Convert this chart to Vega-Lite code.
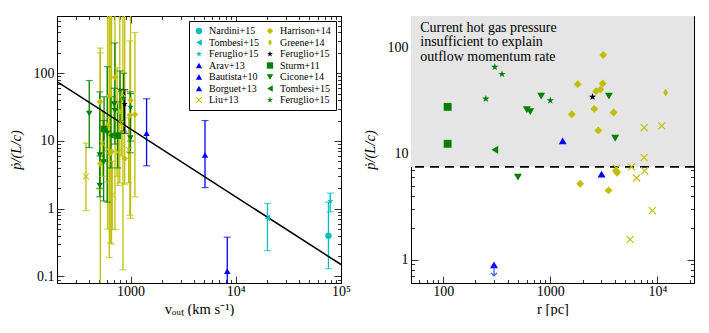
{
  "$schema": "https://vega.github.io/schema/vega-lite/v6.json",
  "padding": {"left": 8, "top": 9, "right": 0, "bottom": 0},
  "background": "white",
  "config": {
    "view": {"stroke": null},
    "font": "Liberation Serif",
    "axis": {
      "domainColor": "black", "domainWidth": 1, "tickColor": "black", "tickWidth": 0.8,
      "labelFont": "Liberation Serif", "labelFontSize": 14, "labelColor": "black",
      "titleFont": "Liberation Serif", "titleFontSize": 14.5, "titleFontWeight": "normal", "titleColor": "black",
      "grid": false, "labelOverlap": false, "labelFlush": false
    }
  },
  "datasets": {
    "fit": [{"v": 200, "p": 75}, {"v": 100000, "p": 0.15}],
    "left": [
      {"s": "Harrison+14", "v": 513, "p": 38, "lo": 1.9, "hi": 235},
      {"s": "Harrison+14", "v": 516, "p": 4.6, "lo": 0.05, "hi": 200},
      {"s": "Harrison+14", "v": 607, "p": 17, "lo": 0.5, "hi": 2000},
      {"s": "Harrison+14", "v": 628, "p": 46, "lo": 0.19, "hi": 2000},
      {"s": "Harrison+14", "v": 640, "p": 6.6, "lo": 0.31, "hi": 2000},
      {"s": "Harrison+14", "v": 711, "p": 87, "lo": 0.49, "hi": 2000},
      {"s": "Harrison+14", "v": 790, "p": 27, "lo": 2.4, "hi": 2000},
      {"s": "Harrison+14", "v": 847, "p": 45, "lo": 0.125, "hi": 2000},
      {"s": "Harrison+14", "v": 880, "p": 5.5, "lo": 2.3, "hi": 2000},
      {"s": "Harrison+14", "v": 1000, "p": 40, "lo": 0.72, "hi": 2000},
      {"s": "Harrison+14", "v": 985, "p": 24, "lo": 0.8, "hi": 300},
      {"s": "Harrison+14", "v": 1100, "p": 24.5, "lo": 1.5, "hi": 400},
      {"s": "Harrison+14", "v": 660, "p": 7, "lo": 0.3, "hi": 2000},
      {"s": "Greene+14", "v": 745, "p": 38, "lo": 3, "hi": 120},
      {"s": "Liu+13", "v": 377, "p": 3.0, "lo": 0.94, "hi": 9.3},
      {"s": "Liu+13", "v": 670, "p": 1.6, "lo": 0.5, "hi": 5},
      {"s": "Liu+13", "v": 540, "p": 9.2, "lo": 3, "hi": 28},
      {"s": "Liu+13", "v": 600, "p": 7.5, "lo": 2.5, "hi": 22},
      {"s": "Liu+13", "v": 760, "p": 6.8, "lo": 2.2, "hi": 20},
      {"s": "Liu+13", "v": 820, "p": 18, "lo": 6, "hi": 55},
      {"s": "Liu+13", "v": 960, "p": 7.4, "lo": 2.4, "hi": 22},
      {"s": "Cicone+14", "v": 405, "p": 25.5, "lo": 8, "hi": 78},
      {"s": "Cicone+14", "v": 510, "p": 2.2, "lo": 1.5, "hi": 6},
      {"s": "Cicone+14", "v": 510, "p": 6.2, "lo": 2, "hi": 53},
      {"s": "Cicone+14", "v": 555, "p": 4.9, "lo": 1.3, "hi": 20},
      {"s": "Sturm+11", "v": 560, "p": 15, "lo": 5, "hi": 45},
      {"s": "Cicone+14", "v": 600, "p": 13, "lo": 1.25, "hi": 125},
      {"s": "Tombesi+15|g", "v": 650, "p": 12, "lo": 4, "hi": 45},
      {"s": "Cicone+14", "v": 710, "p": 28, "lo": 9, "hi": 280},
      {"s": "Sturm+11", "v": 755, "p": 12, "lo": 4, "hi": 38},
      {"s": "Feruglio+15|g", "v": 795, "p": 57, "lo": 20, "hi": 108},
      {"s": "Cicone+14", "v": 700, "p": 35, "lo": 12, "hi": 60},
      {"s": "Feruglio+15|g", "v": 860, "p": 43, "lo": 14, "hi": 100},
      {"s": "Cicone+14", "v": 995, "p": 11, "lo": 6.7, "hi": 53},
      {"s": "Feruglio+15|g", "v": 1000, "p": 32, "lo": 10, "hi": 50},
      {"s": "Feruglio+15|k", "v": 880, "p": 35, "lo": 13, "hi": 57},
      {"s": "Arav+13", "v": 1420, "p": 13, "lo": 4.3, "hi": 42},
      {"s": "Bautista+10", "v": 5100, "p": 6.2, "lo": 2.05, "hi": 20},
      {"s": "Borguet+13", "v": 8300, "p": 0.12, "lo": 0.05, "hi": 0.38},
      {"s": "Tombesi+15|c", "v": 20000, "p": 0.73, "lo": 0.24, "hi": 1.2},
      {"s": "Nardini+15", "v": 76000, "p": 0.40, "lo": 0.13, "hi": 1.25},
      {"s": "Feruglio+15|c", "v": 79000, "p": 1.3, "lo": 0.9, "hi": 1.7}
    ],
    "right": [
      {"s": "Harrison+14", "r": 3125, "p": 85.5},
      {"s": "Harrison+14", "r": 1803, "p": 45.4},
      {"s": "Harrison+14", "r": 3090, "p": 46},
      {"s": "Harrison+14", "r": 2680, "p": 39},
      {"s": "Harrison+14", "r": 2940, "p": 40.5},
      {"s": "Harrison+14", "r": 2580, "p": 26.5},
      {"s": "Harrison+14", "r": 1590, "p": 23.6},
      {"s": "Harrison+14", "r": 3900, "p": 24.5},
      {"s": "Harrison+14", "r": 2810, "p": 16.6},
      {"s": "Harrison+14", "r": 1900, "p": 5.2},
      {"s": "Harrison+14", "r": 4210, "p": 6.6},
      {"s": "Harrison+14", "r": 4100, "p": 6.9},
      {"s": "Harrison+14", "r": 3500, "p": 4.5},
      {"s": "Greene+14", "r": 11970, "p": 37.9},
      {"s": "Liu+13", "r": 7520, "p": 17.6},
      {"s": "Liu+13", "r": 10990, "p": 18.3},
      {"s": "Liu+13", "r": 7520, "p": 9.2},
      {"s": "Liu+13", "r": 5730, "p": 7.5},
      {"s": "Liu+13", "r": 7600, "p": 6.9},
      {"s": "Liu+13", "r": 6400, "p": 5.9},
      {"s": "Liu+13", "r": 8980, "p": 2.9},
      {"s": "Liu+13", "r": 5570, "p": 1.55},
      {"s": "Liu+13", "r": 4150, "p": 7.3},
      {"s": "Sturm+11", "r": 110, "p": 27.7},
      {"s": "Sturm+11", "r": 110, "p": 12.4},
      {"s": "Feruglio+15|g", "r": 303, "p": 66},
      {"s": "Feruglio+15|g", "r": 354, "p": 56.5},
      {"s": "Feruglio+15|g", "r": 250, "p": 33},
      {"s": "Feruglio+15|g", "r": 1000, "p": 31.8},
      {"s": "Tombesi+15|g", "r": 303, "p": 10.9},
      {"s": "Cicone+14", "r": 604, "p": 26},
      {"s": "Cicone+14", "r": 650, "p": 25},
      {"s": "Cicone+14", "r": 822, "p": 35},
      {"s": "Cicone+14", "r": 3530, "p": 35},
      {"s": "Cicone+14", "r": 4040, "p": 14},
      {"s": "Cicone+14", "r": 499, "p": 6.0},
      {"s": "Arav+13", "r": 1306, "p": 13.2},
      {"s": "Bautista+10", "r": 3013, "p": 6.4},
      {"s": "Borguet+13", "r": 298, "p": 0.89},
      {"s": "Feruglio+15|k", "r": 2480, "p": 34.4}
    ],
    "band": [{"x1": 50, "x2": 22000, "y1": 7.5, "y2": 200}],
    "note": [{"r": 61, "p": 142, "t": "Current hot gas pressure\ninsufficient to explain\noutflow momentum rate"}],
    "arrow": [{"r": 298, "p": 0.78}]
  },
  "resolve": {"scale": {"color": "independent", "shape": "independent"}, "legend": {"color": "independent", "shape": "independent"}},
  "bounds": "flush",
  "spacing": 70,
  "hconcat": [
    {
      "width": 284,
      "height": 267,
      "resolve": {"axis": {"x": "independent", "y": "independent"}},
      "layer": [
        {
          "data": {"name": "left"},
          "mark": {"type": "rule", "clip": true, "strokeWidth": 1.3},
          "encoding": {
            "x": {"field": "v", "type": "quantitative", "scale": {"type": "log", "domain": [200, 100000], "nice": false},
              "axis": {"orient": "bottom", "title": "vₒᵤₜ (km s⁻¹)", "titlePadding": 0, "labelPadding": 8.5,
                "values": [200,300,400,500,600,700,800,900,1000,2000,3000,4000,5000,6000,7000,8000,9000,10000,20000,30000,40000,50000,60000,70000,80000,90000,100000],
                "labelExpr": "datum.value == 1000 ? '1000' : datum.value == 10000 ? '10⁴' : datum.value == 100000 ? '10⁵' : ''",
                "tickSize": {"condition": {"test": "indexof([1000,10000,100000], datum.value) >= 0", "value": -7}, "value": -3.5}}},
            "y": {"field": "lo", "type": "quantitative", "scale": {"type": "log", "domain": [0.08, 700], "nice": false},
              "axis": {"orient": "left", "title": "ṗ/(L/c)", "titleFontStyle": "italic", "titlePadding": 10, "labelPadding": 10,
                "values": [0.08,0.09,0.1,0.2,0.3,0.4,0.5,0.6,0.7,0.8,0.9,1,2,3,4,5,6,7,8,9,10,20,30,40,50,60,70,80,90,100,200,300,400,500,600,700],
                "labelExpr": "datum.value == 0.1 ? '0.1' : datum.value == 1 ? '1' : datum.value == 10 ? '10' : datum.value == 100 ? '100' : ''",
                "tickSize": {"condition": {"test": "indexof([0.1,1,10,100], datum.value) >= 0", "value": -7}, "value": -3.5}}},
            "y2": {"field": "hi"},
            "stroke": {"field": "s", "type": "nominal", "legend": null,
              "scale": {
                "domain": ["Nardini+15", "Tombesi+15|c", "Feruglio+15|c", "Arav+13", "Bautista+10", "Borguet+13", "Liu+13", "Harrison+14", "Greene+14", "Feruglio+15|k", "Sturm+11", "Cicone+14", "Tombesi+15|g", "Feruglio+15|g"],
                "range": ["#00BFBF", "#00BFBF", "#00BFBF", "#0000FF", "#0000FF", "#0000FF", "#BFBF00", "#BFBF00", "#BFBF00", "#000000", "#008000", "#008000", "#008000", "#008000"]
              }}
          }
        },
        {
          "data": {"name": "left"},
          "mark": {"type": "tick", "orient": "horizontal", "clip": true, "size": 7, "thickness": 1.2},
          "encoding": {
            "x": {"field": "v", "type": "quantitative",
              "axis": {"orient": "top", "title": null, "labels": false,
                "values": [200,300,400,500,600,700,800,900,1000,2000,3000,4000,5000,6000,7000,8000,9000,10000,20000,30000,40000,50000,60000,70000,80000,90000,100000],
                "tickSize": {"condition": {"test": "indexof([1000,10000,100000], datum.value) >= 0", "value": -7}, "value": -3.5}}},
            "y": {"field": "lo", "type": "quantitative",
              "axis": {"orient": "right", "title": null, "labels": false,
                "values": [0.08,0.09,0.1,0.2,0.3,0.4,0.5,0.6,0.7,0.8,0.9,1,2,3,4,5,6,7,8,9,10,20,30,40,50,60,70,80,90,100,200,300,400,500,600,700],
                "tickSize": {"condition": {"test": "indexof([0.1,1,10,100], datum.value) >= 0", "value": -7}, "value": -3.5}}},
            "fill": {"field": "s", "type": "nominal", "legend": null,
              "scale": {
                "domain": ["Nardini+15", "Tombesi+15|c", "Feruglio+15|c", "Arav+13", "Bautista+10", "Borguet+13", "Liu+13", "Harrison+14", "Greene+14", "Feruglio+15|k", "Sturm+11", "Cicone+14", "Tombesi+15|g", "Feruglio+15|g"],
                "range": ["#00BFBF", "#00BFBF", "#00BFBF", "#0000FF", "#0000FF", "#0000FF", "#BFBF00", "#BFBF00", "#BFBF00", "#000000", "#008000", "#008000", "#008000", "#008000"]
              }}
          }
        },
        {
          "data": {"name": "left"},
          "mark": {"type": "tick", "orient": "horizontal", "clip": true, "size": 7, "thickness": 1.2},
          "encoding": {
            "x": {"field": "v", "type": "quantitative", "axis": null},
            "y": {"field": "hi", "type": "quantitative", "axis": null},
            "fill": {"field": "s", "type": "nominal", "legend": null}
          }
        },
        {
          "data": {"name": "fit"},
          "mark": {"type": "line", "color": "black", "strokeWidth": 1.5, "clip": true},
          "encoding": {
            "x": {"field": "v", "type": "quantitative", "axis": null},
            "y": {"field": "p", "type": "quantitative", "axis": null}
          }
        },
        {
          "data": {"name": "left"},
          "mark": {"type": "point", "filled": true, "size": 42, "opacity": 1, "strokeWidth": 0, "clip": true},
          "encoding": {
            "x": {"field": "v", "type": "quantitative", "axis": null},
            "y": {"field": "p", "type": "quantitative", "axis": null},
            "color": {"field": "s", "type": "nominal",
              "scale": {
                "domain": ["Nardini+15", "Tombesi+15|c", "Feruglio+15|c", "Arav+13", "Bautista+10", "Borguet+13", "Liu+13", "Harrison+14", "Greene+14", "Feruglio+15|k", "Sturm+11", "Cicone+14", "Tombesi+15|g", "Feruglio+15|g"],
                "range": ["#00BFBF", "#00BFBF", "#00BFBF", "#0000FF", "#0000FF", "#0000FF", "#BFBF00", "#BFBF00", "#BFBF00", "#000000", "#008000", "#008000", "#008000", "#008000"]
              },
              "legend": {"title": null, "orient": "top-right", "offset": 5, "columns": 2, "columnPadding": 6, "rowPadding": 1.5, "padding": 5,
                "strokeColor": "black", "fillColor": "white", "labelFont": "Liberation Serif", "labelFontSize": 10, "labelColor": "black",
                "labelLimit": 200, "symbolSize": 40, "symbolStrokeWidth": 0, "labelOffset": 5, "labelExpr": "split(datum.label, '|')[0]"}
            },
            "shape": {"field": "s", "type": "nominal",
              "scale": {
                "domain": ["Nardini+15", "Tombesi+15|c", "Feruglio+15|c", "Arav+13", "Bautista+10", "Borguet+13", "Liu+13", "Harrison+14", "Greene+14", "Feruglio+15|k", "Sturm+11", "Cicone+14", "Tombesi+15|g", "Feruglio+15|g"],
                "range": ["circle", "triangle-left",
                  "M0,-1L0.225,-0.309L0.951,-0.309L0.363,0.118L0.588,0.809L0,0.382L-0.588,0.809L-0.363,0.118L-0.951,-0.309L-0.225,-0.309Z",
                  "triangle-up", "triangle-up", "triangle-up",
                  "M-1,-0.8L-0.8,-1L1,0.8L0.8,1Z M0.8,-1L1,-0.8L-0.8,1L-1,0.8Z",
                  "diamond", "M0,-1L0.6,0L0,1L-0.6,0Z",
                  "M0,-1L0.225,-0.309L0.951,-0.309L0.363,0.118L0.588,0.809L0,0.382L-0.588,0.809L-0.363,0.118L-0.951,-0.309L-0.225,-0.309Z",
                  "square", "triangle-down", "triangle-left",
                  "M0,-1L0.225,-0.309L0.951,-0.309L0.363,0.118L0.588,0.809L0,0.382L-0.588,0.809L-0.363,0.118L-0.951,-0.309L-0.225,-0.309Z"]
              },
              "legend": {"title": null, "orient": "top-right", "offset": 5, "columns": 2, "columnPadding": 6, "rowPadding": 1.5, "padding": 5,
                "strokeColor": "black", "fillColor": "white", "labelFont": "Liberation Serif", "labelFontSize": 10, "labelColor": "black",
                "labelLimit": 200, "symbolSize": 40, "symbolStrokeWidth": 0, "labelOffset": 5, "labelExpr": "split(datum.label, '|')[0]"}
            }
          }
        }
      ]
    },
    {
      "width": 283,
      "height": 267,
      "resolve": {"axis": {"x": "independent", "y": "independent"}},
      "layer": [
        {
          "data": {"name": "band"},
          "mark": {"type": "rect", "color": "#e5e5e5"},
          "encoding": {
            "x": {"field": "x1", "type": "quantitative", "scale": {"type": "log", "domain": [50, 22000], "nice": false},
              "axis": {"orient": "bottom", "title": "r [pc]", "titlePadding": 0, "labelPadding": 8.5,
                "values": [50,60,70,80,90,100,200,300,400,500,600,700,800,900,1000,2000,3000,4000,5000,6000,7000,8000,9000,10000,20000],
                "labelExpr": "datum.value == 100 ? '100' : datum.value == 1000 ? '1000' : datum.value == 10000 ? '10⁴' : ''",
                "tickSize": {"condition": {"test": "indexof([100,1000,10000], datum.value) >= 0", "value": -7}, "value": -3.5}}},
            "x2": {"field": "x2"},
            "y": {"field": "y1", "type": "quantitative", "scale": {"type": "log", "domain": [0.6, 200], "nice": false},
              "axis": {"orient": "left", "title": "ṗ/(L/c)", "titleFontStyle": "italic", "titlePadding": 10, "labelPadding": 10,
                "values": [0.6,0.7,0.8,0.9,1,2,3,4,5,6,7,8,9,10,20,30,40,50,60,70,80,90,100,200],
                "labelExpr": "datum.value == 1 ? '1' : datum.value == 10 ? '10' : datum.value == 100 ? '100' : ''",
                "tickSize": {"condition": {"test": "indexof([1,10,100], datum.value) >= 0", "value": -7}, "value": -3.5}}},
            "y2": {"field": "y2"}
          }
        },
        {
          "data": {"name": "band"},
          "mark": {"type": "rule", "color": "black", "strokeWidth": 1.8, "strokeDash": [9, 6]},
          "encoding": {
            "y": {"field": "y1", "type": "quantitative", "axis": null}
          }
        },
        {
          "data": {"name": "note"},
          "mark": {"type": "text", "align": "left", "baseline": "alphabetic", "font": "Liberation Serif", "fontSize": 14, "lineBreak": "\n", "lineHeight": 14.5, "color": "black"},
          "encoding": {
            "x": {"field": "r", "type": "quantitative", "axis": null},
            "y": {"field": "p", "type": "quantitative", "axis": null},
            "text": {"field": "t"}
          }
        },
        {
          "data": {"name": "right"},
          "mark": {"type": "point", "filled": true, "size": 62, "opacity": 1, "strokeWidth": 0, "clip": true},
          "encoding": {
            "x": {"field": "r", "type": "quantitative",
              "axis": {"orient": "top", "title": null, "labels": false,
                "values": [50,60,70,80,90,100,200,300,400,500,600,700,800,900,1000,2000,3000,4000,5000,6000,7000,8000,9000,10000,20000],
                "tickSize": {"condition": {"test": "indexof([100,1000,10000], datum.value) >= 0", "value": -7}, "value": -3.5}}},
            "y": {"field": "p", "type": "quantitative",
              "axis": {"orient": "right", "title": null, "labels": false,
                "values": [0.6,0.7,0.8,0.9,1,2,3,4,5,6,7,8,9,10,20,30,40,50,60,70,80,90,100,200],
                "tickSize": {"condition": {"test": "indexof([1,10,100], datum.value) >= 0", "value": -7}, "value": -3.5}}},
            "color": {"field": "s", "type": "nominal", "legend": null,
              "scale": {
                "domain": ["Nardini+15", "Tombesi+15|c", "Feruglio+15|c", "Arav+13", "Bautista+10", "Borguet+13", "Liu+13", "Harrison+14", "Greene+14", "Feruglio+15|k", "Sturm+11", "Cicone+14", "Tombesi+15|g", "Feruglio+15|g"],
                "range": ["#00BFBF", "#00BFBF", "#00BFBF", "#0000FF", "#0000FF", "#0000FF", "#BFBF00", "#BFBF00", "#BFBF00", "#000000", "#008000", "#008000", "#008000", "#008000"]
              }},
            "shape": {"field": "s", "type": "nominal", "legend": null,
              "scale": {
                "domain": ["Nardini+15", "Tombesi+15|c", "Feruglio+15|c", "Arav+13", "Bautista+10", "Borguet+13", "Liu+13", "Harrison+14", "Greene+14", "Feruglio+15|k", "Sturm+11", "Cicone+14", "Tombesi+15|g", "Feruglio+15|g"],
                "range": ["circle", "triangle-left",
                  "M0,-1L0.225,-0.309L0.951,-0.309L0.363,0.118L0.588,0.809L0,0.382L-0.588,0.809L-0.363,0.118L-0.951,-0.309L-0.225,-0.309Z",
                  "triangle-up", "triangle-up", "triangle-up",
                  "M-1,-0.8L-0.8,-1L1,0.8L0.8,1Z M0.8,-1L1,-0.8L-0.8,1L-1,0.8Z",
                  "diamond", "M0,-1L0.6,0L0,1L-0.6,0Z",
                  "M0,-1L0.225,-0.309L0.951,-0.309L0.363,0.118L0.588,0.809L0,0.382L-0.588,0.809L-0.363,0.118L-0.951,-0.309L-0.225,-0.309Z",
                  "square", "triangle-down", "triangle-left",
                  "M0,-1L0.225,-0.309L0.951,-0.309L0.363,0.118L0.588,0.809L0,0.382L-0.588,0.809L-0.363,0.118L-0.951,-0.309L-0.225,-0.309Z"]
              }}
          }
        },
        {
          "data": {"name": "arrow"},
          "mark": {"type": "point", "filled": false, "shape": "M0,-1L0,1M-0.6,0.4L0,1L0.6,0.4", "size": 100, "stroke": "#3355ff", "strokeWidth": 1.2, "opacity": 1},
          "encoding": {
            "x": {"field": "r", "type": "quantitative", "axis": null},
            "y": {"field": "p", "type": "quantitative", "axis": null}
          }
        }
      ]
    }
  ]
}
